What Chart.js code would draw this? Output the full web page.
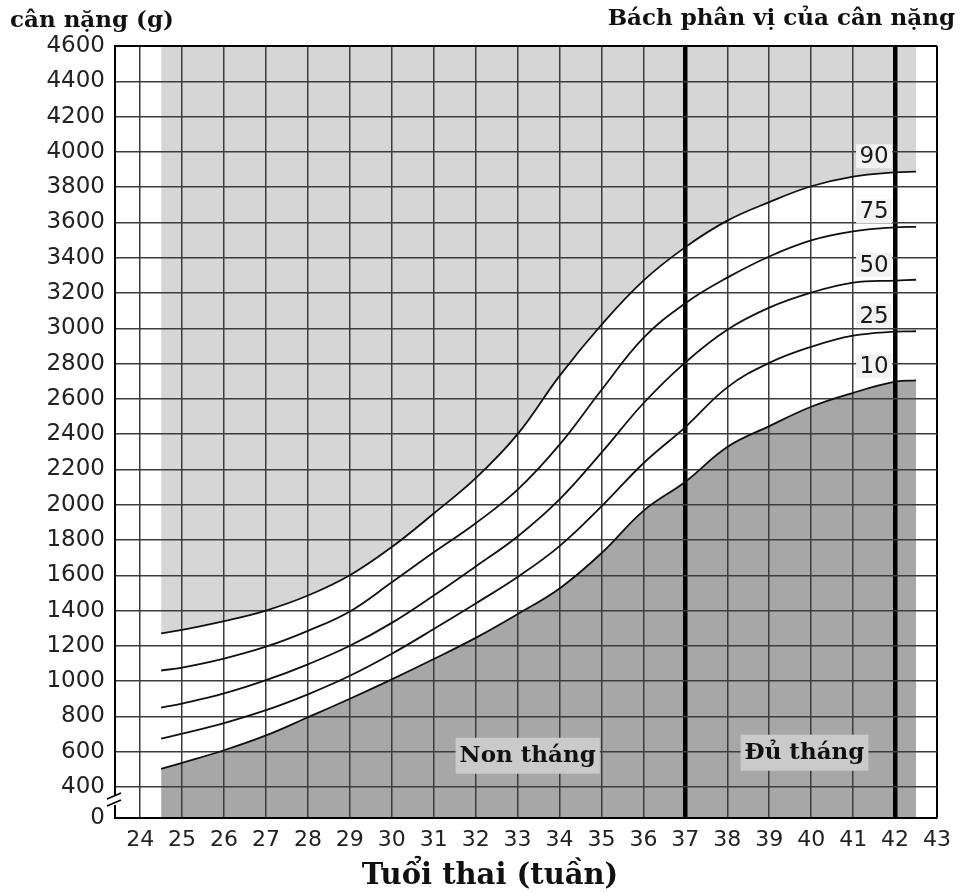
<!DOCTYPE html>
<html>
<head>
<meta charset="utf-8">
<script src="https://cdn.jsdelivr.net/npm/chart.js@4.4.1/dist/chart.umd.min.js"></script>
<style>
  html, body { margin: 0; padding: 0; background: #fff; }
  #wrap { width: 960px; height: 892px; position: relative; }
</style>
</head>
<body>
<div id="wrap"><canvas id="growth"></canvas></div>
<script>
// ===== DATA =====
const weeks = [24.5, 25, 26, 27, 28, 29, 30, 31, 32, 33, 34, 35, 36, 37, 38, 39, 40, 41, 42, 42.5];
const p90 = [1270, 1290, 1340, 1400, 1485, 1600, 1760, 1950, 2150, 2400, 2730, 3020, 3270, 3460, 3610, 3715, 3805, 3860, 3884, 3888];
const p75 = [1060, 1077, 1128, 1195, 1285, 1395, 1560, 1730, 1895, 2085, 2340, 2650, 2945, 3142, 3287, 3407, 3498, 3549, 3572, 3575];
const p50 = [850, 873, 930, 1005, 1095, 1200, 1330, 1485, 1650, 1820, 2030, 2295, 2575, 2807, 2992, 3117, 3202, 3259, 3270, 3275];
const p25 = [674, 702, 762, 835, 925, 1030, 1155, 1295, 1440, 1590, 1765, 1990, 2235, 2440, 2665, 2804, 2895, 2958, 2981, 2983];
const p10 = [503, 537, 608, 692, 795, 900, 1010, 1125, 1245, 1380, 1525, 1725, 1965, 2130, 2327, 2445, 2555, 2634, 2697, 2705];

const percentileNames = ["90", "75", "50", "25", "10"];
const weekTicks = [24, 25, 26, 27, 28, 29, 30, 31, 32, 33, 34, 35, 36, 37, 38, 39, 40, 41, 42, 43];
const weightTicks = [400, 600, 800, 1000, 1200, 1400, 1600, 1800, 2000, 2200, 2400, 2600, 2800, 3000, 3200, 3400, 3600, 3800, 4000, 4200, 4400, 4600];
const zeroLabel = "0";
const yAxisTitle = "cân nặng (g)";
const legendTitle = "Bách phân vị của cân nặng";
const xAxisTitle = "Tuổi thai (tuần)";
const zoneLabels = ["Non tháng", "Đủ tháng"];

// ===== SCALE SETUP =====
const X_MIN = 23.4, X_MAX = 43;
const Y_BOTTOM = 224, Y_MAX = 4600;   // broken axis: bottom is shown as "0"
const boundaryWeeks = [37, 42];
const labelWeek = 41.5;
const zoneAnchors = [[33.24, 577], [39.84, 594]];

const LIGHT = "#d6d6d6";
const DARK = "#a7a7a7";
const GRID = "#3c3c3c";

const toPoints = arr => weeks.map((w, i) => ({ x: w, y: arr[i] }));

function curve(values, extra) {
  return Object.assign({
    data: toPoints(values),
    borderColor: "#111",
    borderWidth: 1.8,
    pointRadius: 0,
    tension: 0.4,
    fill: false
  }, extra || {});
}

// ===== TEXT / DECORATION PLUGIN =====
const chartText = {
  id: "chartText",
  afterDraw(chart) {
    const { ctx, chartArea: a, scales: { x, y } } = chart;
    ctx.save();

    // axis break mark
    const by = y.getPixelForValue(326);
    ctx.fillStyle = "#fff";
    ctx.fillRect(a.left - 3, by - 5, 6, 10);
    ctx.strokeStyle = "#000";
    ctx.lineWidth = 1.6;
    ctx.beginPath();
    ctx.moveTo(a.left - 8, by - 1); ctx.lineTo(a.left + 6, by - 7);
    ctx.moveTo(a.left - 8, by + 6); ctx.lineTo(a.left + 6, by);
    ctx.stroke();

    // percentile labels
    const series = [p90, p75, p50, p25, p10];
    const i42 = weeks.indexOf(42);
    ctx.font = '23px "DejaVu Sans"';
    ctx.textAlign = "center";
    ctx.textBaseline = "middle";
    series.forEach((s, k) => {
      const px = x.getPixelForValue(labelWeek);
      const py = y.getPixelForValue(s[i42]) - 16;
      ctx.fillStyle = "#f2f2f2";
      ctx.fillRect(px - 18, py - 12, 36, 24);
      ctx.fillStyle = "#1a1a1a";
      ctx.fillText(percentileNames[k], px, py + 1);
    });

    // zone labels
    ctx.font = 'bold 23px "DejaVu Serif"';
    zoneLabels.forEach((t, k) => {
      const px = x.getPixelForValue(zoneAnchors[k][0]);
      const py = y.getPixelForValue(zoneAnchors[k][1]);
      const w = ctx.measureText(t).width + 8;
      ctx.fillStyle = "#cacaca";
      ctx.fillRect(px - w / 2, py - 18, w, 36);
      ctx.fillStyle = "#111";
      ctx.fillText(t, px, py);
    });

    // titles
    ctx.fillStyle = "#111";
    ctx.font = 'bold 23px "DejaVu Serif"';
    ctx.textAlign = "left";
    ctx.fillText(yAxisTitle, 10, 21);
    ctx.textAlign = "right";
    ctx.fillText(legendTitle, 955, 19);
    ctx.font = 'bold 29px "DejaVu Serif"';
    ctx.textAlign = "center";
    ctx.fillText(xAxisTitle, 490, 876);

    ctx.restore();
  }
};

// ===== CHART =====
const ctx = document.getElementById("growth").getContext("2d");

new Chart(ctx, {
  type: "line",
  data: {
    datasets: [
      curve(p90, { fill: "end", backgroundColor: LIGHT }),
      curve(p75),
      curve(p50),
      curve(p25),
      curve(p10, { fill: "start", backgroundColor: DARK })
    ]
  },
  options: {
    responsive: true,
    maintainAspectRatio: false,
    animation: false,
    layout: { padding: { top: 46, right: 18, left: 0, bottom: 0 } },
    plugins: {
      legend: { display: false },
      tooltip: { enabled: false },
      filler: { drawTime: "beforeDraw" }
    },
    scales: {
      x: {
        type: "linear",
        min: X_MIN,
        max: X_MAX,
        afterBuildTicks: s => { s.ticks = weekTicks.map(v => ({ value: v })); },
        afterFit: s => { s.height = 74; },
        grid: {
          drawTicks: false,
          color: c => (boundaryWeeks.includes(c.tick.value) || c.tick.value === X_MAX) ? "#000" : GRID,
          lineWidth: c => boundaryWeeks.includes(c.tick.value) ? 4.5 : (c.tick.value === X_MAX ? 2 : 1.5)
        },
        border: { color: "#000", width: 2 },
        ticks: {
          padding: 9,
          autoSkip: false,
          maxRotation: 0,
          color: "#222",
          font: { family: "DejaVu Sans", size: 22 },
          callback: v => String(v)
        }
      },
      y: {
        min: Y_BOTTOM,
        max: Y_MAX,
        afterBuildTicks: s => { s.ticks = [Y_BOTTOM].concat(weightTicks).map(v => ({ value: v })); },
        afterFit: s => { s.width = 115; },
        grid: {
          drawTicks: false,
          color: c => c.tick.value === Y_MAX ? "#000" : (c.tick.value === Y_BOTTOM ? "rgba(0,0,0,0)" : GRID),
          lineWidth: c => c.tick.value === Y_MAX ? 2 : 1.5
        },
        border: { color: "#000", width: 2 },
        ticks: {
          padding: 10,
          autoSkip: false,
          color: "#222",
          font: { family: "DejaVu Sans", size: 23 },
          callback: v => v === Y_BOTTOM ? zeroLabel : String(v)
        }
      }
    }
  },
  plugins: [chartText]
});
</script>
</body>
</html>
